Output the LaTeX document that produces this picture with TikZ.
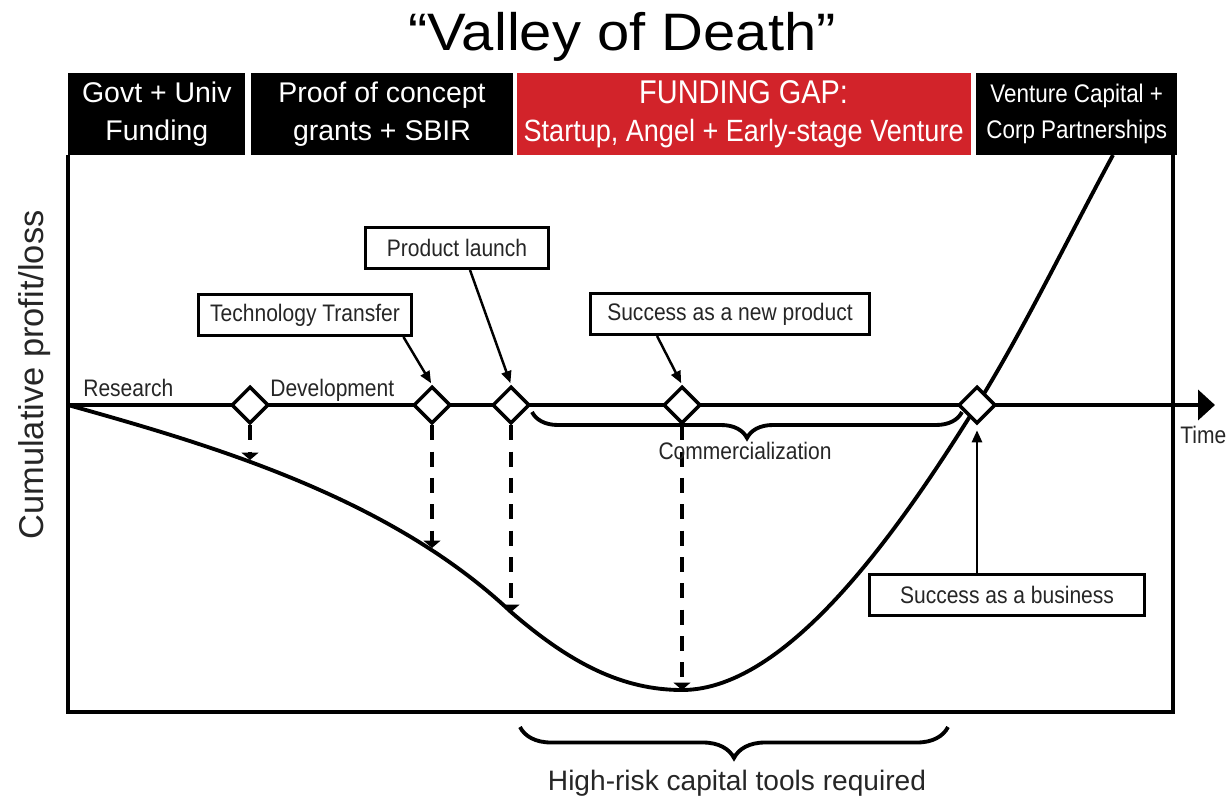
\documentclass[tikz,border=0pt]{standalone}
\usepackage{fontspec}
\setmainfont{Liberation Sans}
\newfontfamily\vdcond{Liberation Sans}[FakeStretch=0.88]
\newfontfamily\vdwide{Liberation Sans}[FakeStretch=1.1]
\usepackage{xcolor}
\definecolor{vdred}{HTML}{D2232A}
\usetikzlibrary{arrows.meta,positioning,calc,decorations.pathreplacing,shapes.geometric}
\tikzset{
  vdhead/.style ={rectangle, fill=black, text=white, minimum height=1.64cm,
                  inner sep=0pt, align=center,
                  font=\fontsize{16.2}{21.5}\selectfont},
  vdgap/.style  ={vdhead, fill=vdred, font=\vdcond\fontsize{17.5}{20}\selectfont},
  vdvc/.style   ={vdhead, font=\vdcond\fontsize{14.5}{20.5}\selectfont},
  vdbox/.style  ={rectangle, draw=black, line width=1.7pt, fill=white,
                  minimum height=0.82cm, inner sep=0pt, text=black!85,
                  font=\vdcond\fontsize{13.6}{16}\selectfont},
  vdmile/.style ={diamond, draw=black, line width=2pt, fill=white,
                  minimum width=0.74cm, minimum height=0.74cm, inner sep=0pt},
  vdlbl/.style  ={inner sep=0pt, text=black!85, font=\vdcond\fontsize{13.6}{16}\selectfont},
  vdbig/.style  ={inner sep=0pt, text=black!85, font=\fontsize{16}{19}\selectfont},
  vdline/.style ={line width=2.2pt, draw=black},
  vdaxis/.style ={vdline, -{Triangle[length=0.34cm,width=0.6cm]}},
  vdptr/.style  ={-{Triangle[length=0.24cm,width=0.2cm]}, line width=1.4pt, draw=black},
  vddrop/.style ={-{Triangle[length=0.15cm,width=0.34cm]}, line width=2pt, draw=black,
                  dash pattern=on 8.5pt off 6.5pt},
  vdbrace/.style={vdline, decorate},
}

\begin{document}
\begin{tikzpicture}[x=0.02cm, y=-0.02cm]
  \useasboundingbox (0,0) rectangle (1228,805);
  % title
  \node[inner sep=0pt, font=\vdwide\fontsize{30}{34}\selectfont, anchor=base] (title) at (622,50) {“Valley of Death”};
  % funding bands
  \node[vdhead, minimum width=3.54cm, anchor=north west] (hgov) at (68,73) {Govt + Univ\\Funding};
  \node[vdhead, minimum width=5.24cm, right=0.1cm of hgov] (hpoc) {Proof of concept\\grants + SBIR};
  \node[vdgap, minimum width=9.08cm, right=0.06cm of hpoc] (hgap)
    {{\fontsize{18.7}{20}\selectfont FUNDING GAP:}\\[2pt]Startup, Angel + Early-stage Venture};
  \node[vdvc, minimum width=4.02cm, right=0.1cm of hgap] (hvc) {Venture Capital +\\Corp Partnerships};
  % frame
  \draw[vdline] (68,155) |- (1173,712) -- (1173,155);
  % axes
  \coordinate (orig) at (68,405);
  \coordinate (tend) at (1215,405);
  \draw[vdaxis] (orig) -- (tend);
  \node[rotate=90, anchor=base, inner sep=0pt, text=black!85, font=\fontsize{19.6}{22}\selectfont] (ylbl) at (43,375) {Cumulative profit/loss};
  \node[vdlbl, anchor=base west] (time) at (1180,443) {Time};
  % cumulative curve
  \coordinate (c1) at (250,460);
  \coordinate (c2) at (432,548);
  \coordinate (c3) at (511,612);
  \coordinate (c4) at (682,690);
  \coordinate (ctop) at (1113,155);
  \draw[vdline] (orig) .. controls (215,446) and (390,498) .. (c3)
    .. controls (570,663) and (622,690) .. (c4)
    .. controls (792,690) and (907,517) .. (977,405)
    .. controls (1022,333) and (1068,238) .. (ctop);
  % milestones
  \node[vdmile] (d1) at (250,405) {};
  \node[vdmile] (d2) at (432,405) {};
  \node[vdmile] (d3) at (511,405) {};
  \node[vdmile] (d4) at (682,405) {};
  \node[vdmile] (d5) at (977,405) {};
  \draw[vddrop] (d1.south) -- (c1);
  \draw[vddrop] (d2.south) -- (c2);
  \draw[vddrop] (d3.south) -- (c3);
  \draw[vddrop] (d4.south) -- (c4);
  \node[vdlbl, anchor=base west] (res) at (83,396) {Research};
  \node[vdlbl, anchor=base west] (dev) at (270,396) {Development};
  % callouts
  \node[vdbox, minimum width=4.28cm] (tt) at (305,315) {Technology Transfer};
  \node[vdbox, minimum width=3.68cm] (pl) at (457,248) {Product launch};
  \node[vdbox, minimum width=5.58cm] (sp) at (730,314) {Success as a new product};
  \node[vdbox, minimum width=5.52cm] (sb) at (1007,595) {Success as a business};
  \draw[vdptr, shorten >=1pt] ($(tt.south east)+(-10,0)$) -- (d2.north);
  \draw[vdptr, shorten >=1pt] ($(pl.south)+(13,0)$) -- (d3.north);
  \draw[vdptr, shorten >=1pt] ($(sp.south west)+(68,0)$) -- (d4.north);
  \draw[vdptr, shorten >=0.1cm] (sb.north -| d5.south) -- (d5.south);
  % braces
  \coordinate (cbl) at (532,412);
  \coordinate (cbr) at (962,412);
  \draw[vdbrace, decoration={brace, mirror, amplitude=0.52cm}] (cbl) -- (cbr);
  \node[vdlbl, anchor=base] (comm) at (745,459) {Commercialization};
  \coordinate (rbl) at (520,727);
  \coordinate (rbr) at (948,727);
  \draw[vdbrace, decoration={brace, mirror, amplitude=0.62cm}] (rbl) -- (rbr);
  \node[vdbig, anchor=base] (risk) at (737,790) {High-risk capital tools required};
\end{tikzpicture}
\end{document}
